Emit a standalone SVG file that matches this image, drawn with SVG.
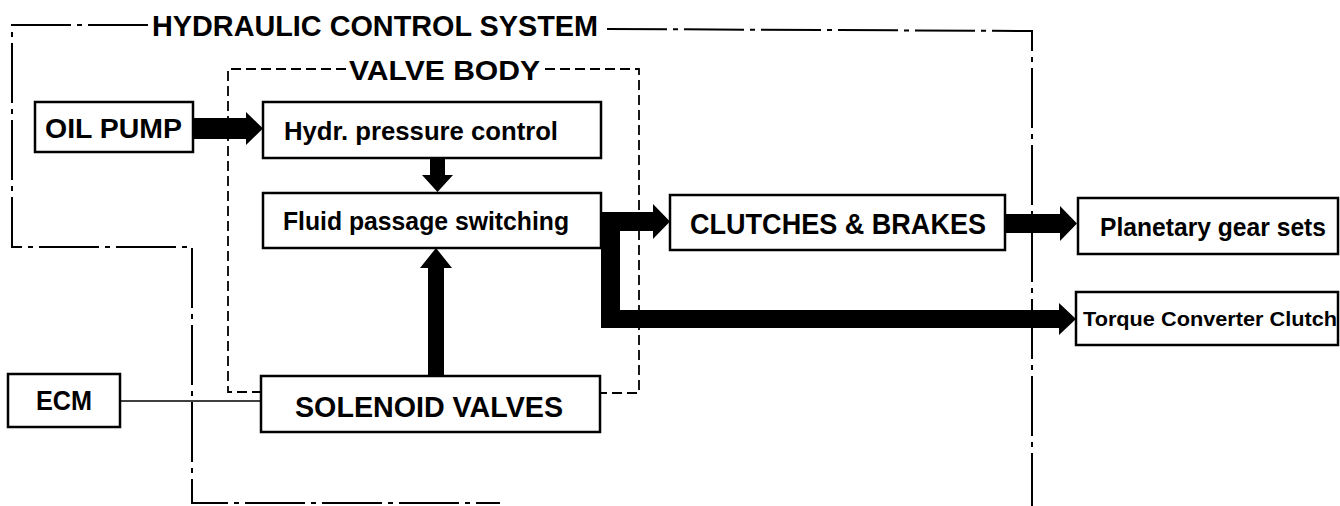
<svg xmlns="http://www.w3.org/2000/svg" width="1340" height="506" viewBox="0 0 1340 506">
<style>
.box{fill:#fff;stroke:#000;stroke-width:2.5}
.t{font-family:"Liberation Sans",Arial,sans-serif;font-weight:bold;fill:#000}
.dd{fill:none;stroke:#000;stroke-width:2;stroke-dasharray:60 6 5 6}
.ds{fill:none;stroke:#000;stroke-width:1.8;stroke-dasharray:10 5}
.fat{fill:#000;stroke:none}
.thin{fill:none;stroke:#000;stroke-width:1.6}
</style>
<rect width="1340" height="506" fill="#fff"/>
<g id="boundaries">
<g id="hydraulic-control-system">
<path class="dd" d="M148,25 L12,25 L12,247 L192,247 L192,503 L500,503"/>
<path class="dd" d="M607,29 L1032,31 L1032,506"/>
<text class="t" x="152" y="36" font-size="29" textLength="446" lengthAdjust="spacingAndGlyphs">HYDRAULIC CONTROL SYSTEM</text>
</g>
<g id="valve-body">
<path class="ds" d="M346,69 L228,69 L228,392 L261,392"/>
<path class="ds" d="M545,69 L639,69 L639,393 L600,393"/>
<text class="t" x="349" y="80" font-size="28" textLength="191" lengthAdjust="spacingAndGlyphs">VALVE BODY</text>
</g>
</g>
<g id="connectors">
<path class="fat" d="M193,118 L246,118 L246,112 L263,128.5 L246,145 L246,139 L193,139 Z"/>
<path class="fat" d="M430,158 L445,158 L445,175 L453,175 L437.5,192 L422,175 L430,175 Z"/>
<path class="fat" d="M428,376 L444,376 L444,268 L452,268 L436,248 L420,268 L428,268 Z"/>
<path class="fat" d="M601,212 L653,212 L653,204 L670,221.5 L653,239 L653,231 L620,231 L620,310 L1059,310 L1059,303 L1076,319 L1059,335 L1059,328 L601,328 Z"/>
<path class="fat" d="M1005,214 L1060,214 L1060,206 L1077,223.5 L1060,241 L1060,233 L1005,233 Z"/>
<line class="thin" x1="120" y1="401" x2="261" y2="401"/>
</g>
<g id="oil-pump">
<rect class="box" x="35" y="102" width="158" height="50"/>
<text class="t" x="45" y="138" font-size="27" textLength="137" lengthAdjust="spacingAndGlyphs">OIL PUMP</text>
</g>
<g id="hydr-pressure-control">
<rect class="box" x="263" y="102" width="338" height="56"/>
<text class="t" x="284" y="140" font-size="25" textLength="274" lengthAdjust="spacingAndGlyphs">Hydr. pressure control</text>
</g>
<g id="fluid-passage-switching">
<rect class="box" x="263" y="193" width="338" height="55"/>
<text class="t" x="283" y="230" font-size="26" textLength="286" lengthAdjust="spacingAndGlyphs">Fluid passage switching</text>
</g>
<g id="clutches-brakes">
<rect class="box" x="670" y="195" width="335" height="55"/>
<text class="t" x="690" y="234" font-size="29" textLength="296" lengthAdjust="spacingAndGlyphs">CLUTCHES &amp; BRAKES</text>
</g>
<g id="planetary-gear-sets">
<rect class="box" x="1078" y="198" width="260" height="56"/>
<text class="t" x="1100" y="236" font-size="26" textLength="226" lengthAdjust="spacingAndGlyphs">Planetary gear sets</text>
</g>
<g id="torque-converter-clutch">
<rect class="box" x="1076" y="292" width="262" height="53"/>
<text class="t" x="1083" y="326" font-size="21" textLength="254" lengthAdjust="spacingAndGlyphs">Torque Converter Clutch</text>
</g>
<g id="solenoid-valves">
<rect class="box" x="261" y="376" width="339" height="56"/>
<text class="t" x="295" y="417" font-size="29" textLength="268" lengthAdjust="spacingAndGlyphs">SOLENOID VALVES</text>
</g>
<g id="ecm">
<rect class="box" x="8" y="374" width="112" height="53"/>
<text class="t" x="36" y="410" font-size="27" textLength="56" lengthAdjust="spacingAndGlyphs">ECM</text>
</g>
</svg>
